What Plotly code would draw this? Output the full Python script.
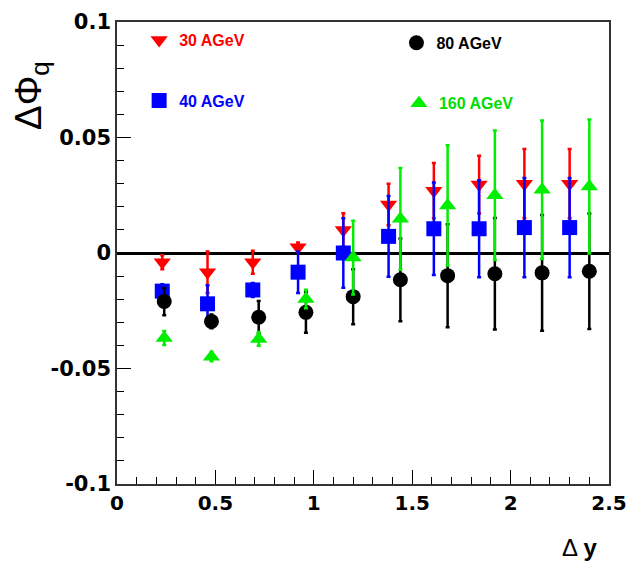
import plotly.graph_objects as go

# Data
x_a = [0.23, 0.46, 0.69, 0.92, 1.15, 1.38, 1.61, 1.84, 2.07, 2.30]   # 30 & 40 AGeV
x_b = [0.24, 0.48, 0.72, 0.96, 1.20, 1.44, 1.68, 1.92, 2.16, 2.40]   # 80 & 160 AGeV

y30 = [-0.004, -0.0083, -0.004, 0.0025, 0.010, 0.021, 0.027, 0.0296, 0.030, 0.030]
e30 = [0.003, 0.009, 0.005, 0.002, 0.0072, 0.009, 0.012, 0.0125, 0.015, 0.015]

y40 = [-0.0165, -0.022, -0.016, -0.0083, 0.0, 0.0072, 0.0105, 0.0105, 0.011, 0.011]
e40 = [0.003, 0.008, 0.003, 0.009, 0.015, 0.0175, 0.020, 0.021, 0.0215, 0.0215]

y80 = [-0.021, -0.0296, -0.0278, -0.0257, -0.0189, -0.0116, -0.0098, -0.009, -0.0086, -0.0079]
e80 = [0.0059, 0.003, 0.007, 0.0088, 0.0119, 0.0179, 0.0223, 0.0241, 0.0251, 0.025]

y160 = [-0.0368, -0.0449, -0.0372, -0.0199, -0.002, 0.0148, 0.0206, 0.025, 0.0274, 0.0288]
e160 = [0.003, 0.002, 0.003, 0.004, 0.016, 0.022, 0.026, 0.028, 0.030, 0.029]

labels = ["30 AGeV", "40 AGeV", "80 AGeV", "160 AGeV"]
colors = ["#ff0000", "#0000ff", "#000000", "#00ee00"]
symbols = ["triangle-down", "square", "circle", "triangle-up"]

x_tickvals = [0, 0.5, 1, 1.5, 2, 2.5]
x_ticktext = ["0", "0.5", "1", "1.5", "2", "2.5"]
y_tickvals = [-0.1, -0.05, 0, 0.05, 0.1]
y_ticktext = ["-0.1", "-0.05", "0", "0.05", "0.1"]

FONT = "Liberation Sans, Arial, sans-serif"
TICKFONT = "DejaVu Sans, Liberation Sans, sans-serif"

fig = go.Figure()
series = [(x_a, y30, e30), (x_a, y40, e40), (x_b, y80, e80), (x_b, y160, e160)]
legend_ids = ["legend", "legend2", "legend3", "legend4"]
for (xs, ys, es), lab, col, sym, lid in zip(series, labels, colors, symbols, legend_ids):
    fig.add_trace(go.Scatter(
        x=xs, y=ys, mode="markers", name=lab, legend=lid,
        marker=dict(symbol=sym, color=col, size=15, line=dict(width=0)),
        error_y=dict(type="data", array=es, visible=True, color=col,
                     thickness=2.5, width=2),
    ))

def leg(x, y, col):
    return dict(x=x, y=y, xanchor="left", yanchor="middle",
                bgcolor="rgba(0,0,0,0)", borderwidth=0,
                font=dict(family=FONT, size=16, color=col, weight="bold"),
                itemsizing="trace", tracegroupgap=0)

fig.update_layout(
    width=628, height=566,
    margin=dict(l=117, r=19, t=22, b=82, autoexpand=False),
    paper_bgcolor="white", plot_bgcolor="white",
    showlegend=True,
    legend=leg(0.045, 0.961, colors[0]),
    legend2=leg(0.045, 0.83, colors[1]),
    legend3=leg(0.568, 0.955, colors[2]),
    legend4=leg(0.573, 0.824, "#00dd00"),
    font=dict(family=FONT, color="black"),
)

fig.update_xaxes(
    range=[0, 2.5], tickvals=x_tickvals, ticktext=["<b>%s</b>" % t for t in x_ticktext],
    ticks="inside", ticklen=14, tickwidth=1, automargin=False,
    tickcolor="black", showline=True, linecolor="#333333", linewidth=1.5, mirror=True,
    showgrid=False, zeroline=False,
    tickfont=dict(family=TICKFONT, size=20, color="black"),
    minor=dict(dtick=0.1, tick0=0, ticks="inside", ticklen=7, tickcolor="black", showgrid=False),
)
fig.update_yaxes(
    range=[-0.1, 0.1], tickvals=y_tickvals, ticktext=["<b>%s</b>" % t for t in y_ticktext],
    ticks="inside", ticklen=14, tickwidth=1, automargin=False,
    tickcolor="black", showline=True, linecolor="#333333", linewidth=1.5, mirror=True,
    showgrid=False, zeroline=True, zerolinecolor="black", zerolinewidth=2.5,
    tickfont=dict(family=TICKFONT, size=21, color="black"),
    minor=dict(dtick=0.01, tick0=0, ticks="inside", ticklen=7, tickcolor="black", showgrid=False),
)

fig.add_annotation(
    text="ΔΦ<sub>q</sub>", xref="paper", yref="paper",
    x=-0.175, y=0.842, xanchor="center", yanchor="middle", showarrow=False,
    textangle=-90, font=dict(family=FONT, size=37, color="black"),
)
fig.add_annotation(
    text="Δ <b>y</b>", xref="paper", yref="paper",
    x=0.941, y=-0.1385, xanchor="center", yanchor="middle", showarrow=False,
    font=dict(family=FONT, size=24, color="black"),
)

# Remove the default page margin so the 628x566 figure fills the window exactly.
fig.write_html("out.html", config={"displayModeBar": False},
               post_script="document.body.style.margin='0';")
